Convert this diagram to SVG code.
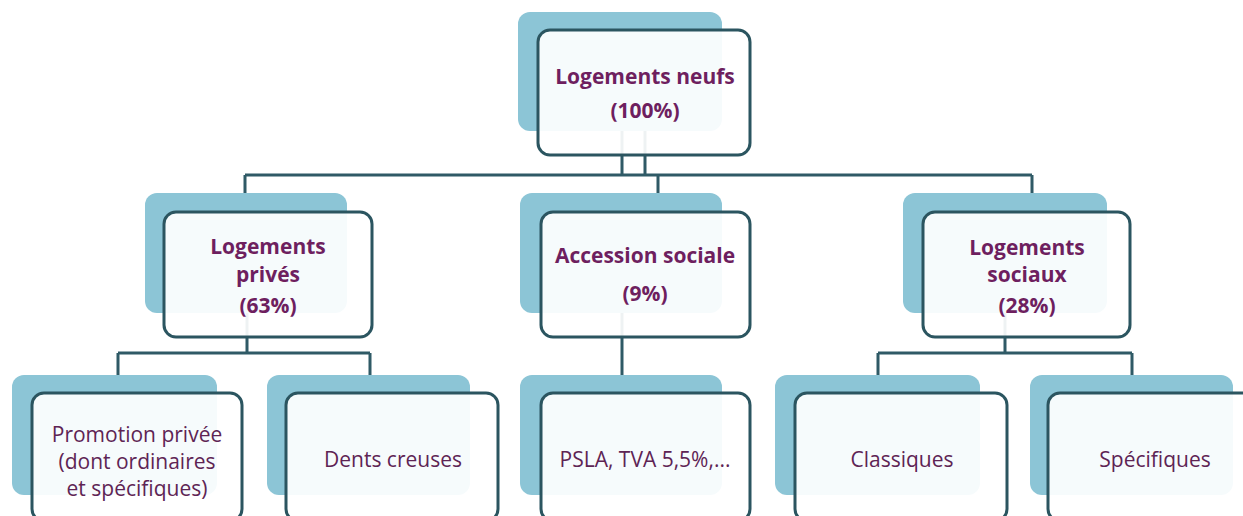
<svg xmlns="http://www.w3.org/2000/svg" width="1243" height="516" viewBox="0 0 1243 516">
<style>
.back{fill:#8cc5d6}
.front{fill:#ffffff;fill-opacity:0.92;stroke:#2b5560;stroke-width:3}
.conn{stroke:#2f5a66;stroke-width:3;fill:none}
.b{font-family:"Open Sans",Lato,sans-serif;font-weight:bold;font-size:21px;fill:#6e1f5f;text-anchor:middle}
.r{font-family:"Open Sans",Lato,sans-serif;font-size:21px;fill:#5e2454;text-anchor:middle}
</style>
<rect width="1243" height="516" fill="#ffffff"/>
<g id="connectors">
<path class="conn" d="M622 131V175M645 131V175M245 175H1032M245 175V212M658 175V212M1032 175V212"/>
<path class="conn" d="M247 313V353M118 353H370M118 353V393M370 353V393"/>
<path class="conn" d="M622 313V393"/>
<path class="conn" d="M1005 313V353M878 353H1132M878 353V393M1132 353V393"/>
</g>
<g id="n-neufs">
<rect class="back" x="518" y="12" width="204" height="119" rx="12"/>
<rect class="front" x="538" y="30" width="212" height="125" rx="12"/>
<text class="b" x="645" y="84">Logements neufs</text>
<text class="b" x="645" y="118">(100%)</text>
</g>
<g id="n-prives">
<rect class="back" x="145" y="193" width="202" height="120" rx="12"/>
<rect class="front" x="164" y="212" width="208" height="125" rx="12"/>
<text class="b" x="268" y="254">Logements</text>
<text class="b" x="268" y="282">privés</text>
<text class="b" x="268" y="313">(63%)</text>
</g>
<g id="n-accession">
<rect class="back" x="520" y="193" width="202" height="120" rx="12"/>
<rect class="front" x="541" y="212" width="209" height="125" rx="12"/>
<text class="b" x="645" y="263">Accession sociale</text>
<text class="b" x="645" y="301">(9%)</text>
</g>
<g id="n-sociaux">
<rect class="back" x="903" y="193" width="204" height="120" rx="12"/>
<rect class="front" x="923" y="212" width="207" height="125" rx="12"/>
<text class="b" x="1027" y="255">Logements</text>
<text class="b" x="1027" y="282">sociaux</text>
<text class="b" x="1027" y="313">(28%)</text>
</g>
<g id="n-promotion">
<rect class="back" x="12" y="375" width="205" height="120" rx="12"/>
<rect class="front" x="32" y="393" width="210" height="128" rx="12"/>
<text class="r" x="137" y="442">Promotion privée</text>
<text class="r" x="137" y="469">(dont ordinaires</text>
<text class="r" x="137" y="496">et spécifiques)</text>
</g>
<g id="n-dents">
<rect class="back" x="267" y="375" width="203" height="120" rx="12"/>
<rect class="front" x="286" y="393" width="212" height="128" rx="12"/>
<text class="r" x="393" y="467">Dents creuses</text>
</g>
<g id="n-psla">
<rect class="back" x="520" y="375" width="202" height="120" rx="12"/>
<rect class="front" x="541" y="393" width="209" height="128" rx="12"/>
<text class="r" x="645" y="467">PSLA, TVA 5,5%,...</text>
</g>
<g id="n-classiques">
<rect class="back" x="775" y="375" width="205" height="120" rx="12"/>
<rect class="front" x="795" y="393" width="212" height="128" rx="12"/>
<text class="r" x="902" y="467">Classiques</text>
</g>
<g id="n-specifiques">
<rect class="back" x="1030" y="375" width="203" height="120" rx="12"/>
<rect class="front" x="1048" y="393" width="212" height="128" rx="12"/>
<text class="r" x="1155" y="467">Spécifiques</text>
</g>
</svg>
